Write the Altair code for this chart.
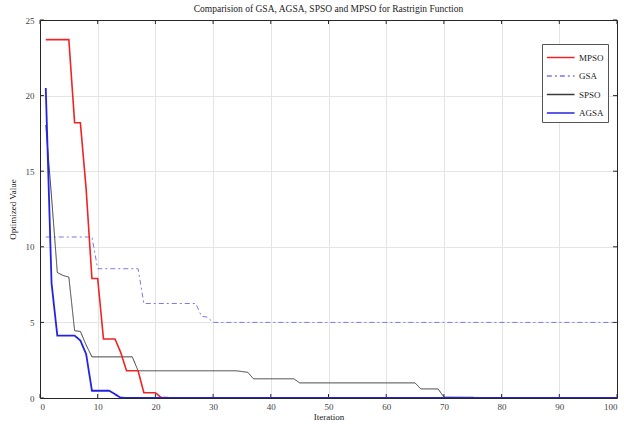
import altair as alt
import pandas as pd

# Breakpoints (iteration, value); lines are straight between them
mpso_it = [1, 5, 6, 7, 8, 9, 10, 11, 13, 14, 15, 17, 18, 20, 21, 24, 100]
mpso_v = [23.7, 23.7, 18.2, 18.2, 13.8, 7.9, 7.9, 3.9, 3.9, 3.0, 1.8, 1.8, 0.35, 0.35, 0.03, 0.01, 0.0]

gsa_it = [1, 9, 10, 17, 18, 27, 28, 29, 30, 100]
gsa_v = [10.65, 10.65, 8.55, 8.55, 6.25, 6.25, 5.4, 5.35, 5.0, 5.0]

spso_it = [1, 2, 3, 4, 5, 6, 7, 8, 9, 16, 17, 34, 35, 36, 37, 44, 45, 65, 66, 69, 70, 75, 76, 100]
spso_v = [18.05, 13.3, 8.3, 8.1, 8.0, 4.45, 4.4, 3.5, 2.72, 2.72, 1.8, 1.8, 1.75, 1.7, 1.27, 1.27, 1.0, 1.0, 0.6, 0.6, 0.06, 0.05, 0.0, 0.0]

agsa_it = [1, 2, 3, 6, 7, 8, 9, 12, 13, 14, 16, 100]
agsa_v = [20.5, 7.6, 4.13, 4.13, 3.8, 2.9, 0.48, 0.48, 0.25, 0.02, 0.0, 0.0]

series_names = ["MPSO", "GSA", "SPSO", "AGSA"]
series_colors = ["#ee2424", "#7a7ae8", "#3a3a3a", "#2424e0"]
series_dash = [[1, 0], [5, 3, 2, 3], [1, 0], [1, 0]]
series_widths = {"MPSO": 1.6, "GSA": 1.0, "SPSO": 1.0, "AGSA": 1.8}

x_ticks = [0, 10, 20, 30, 40, 50, 60, 70, 80, 90, 100]
y_ticks = [0, 5, 10, 15, 20, 25]

rows = []
for name, its, vals in [("MPSO", mpso_it, mpso_v), ("GSA", gsa_it, gsa_v),
                        ("SPSO", spso_it, spso_v), ("AGSA", agsa_it, agsa_v)]:
    for i, v in zip(its, vals):
        rows.append({"series": name, "Iteration": i, "Value": v})
df = pd.DataFrame(rows)

W, H = 577, 378
SERIF = "Liberation Serif"
FRAME = "#262626"

xscale = alt.Scale(domain=[0, 100], nice=False, zero=False)
yscale = alt.Scale(domain=[0, 25], nice=False)

leg = alt.Legend(orient="none", legendX=502, legendY=24, symbolType="M-1,0H2.2", symbolSize=300,
                 symbolStrokeWidth=1.5, labelFont=SERIF, labelFontSize=9, labelColor="#222",
                 padding=4, rowPadding=3.5, strokeColor="#555", fillColor="white", labelOffset=14)
color = alt.Color("series:N", scale=alt.Scale(domain=series_names, range=series_colors), title=None,
                  legend=leg)
dash = alt.StrokeDash("series:N", scale=alt.Scale(domain=series_names, range=series_dash), title=None,
                      legend=leg)

layers = []
for name in ["GSA", "SPSO", "MPSO", "AGSA"]:
    layers.append(
        alt.Chart(df).transform_filter(alt.datum.series == name).mark_line(
            clip=True, strokeWidth=series_widths[name]).encode(
            x=alt.X("Iteration:Q", scale=xscale, axis=None),
            y=alt.Y("Value:Q", scale=yscale, axis=None),
            color=color, strokeDash=dash,
        )
    )

xt = pd.DataFrame({"t": x_ticks})
yt = pd.DataFrame({"t": y_ticks})

common = dict(labelFont=SERIF, labelFontSize=9, labelColor="#444",
              titleFont=SERIF, titleFontSize=9, titleFontWeight="normal", titleColor="#222",
              gridColor="#e4e4e4", gridWidth=1, ticks=False, domain=True, domainColor=FRAME)

bottom_axis = alt.Axis(values=x_ticks, title="Iteration", grid=True, labelPadding=4, titlePadding=1,
                       orient="bottom", **common)
top_axis = alt.Axis(values=x_ticks, title=None, grid=False, labels=False, orient="top", **common)
left_axis = alt.Axis(values=y_ticks, title="Optimized Value", grid=True, labelPadding=6, titlePadding=8,
                     orient="left", **common)
right_axis = alt.Axis(values=y_ticks, title=None, grid=False, labels=False, orient="right", **common)

bx = alt.Chart(xt).mark_rule(color=FRAME, strokeWidth=1).encode(
    x=alt.X("t:Q", scale=xscale, axis=bottom_axis), y=alt.value(H), y2=alt.value(H - 4))
tx = alt.Chart(xt).mark_rule(color=FRAME, strokeWidth=1).encode(
    x=alt.X("t:Q", scale=xscale, axis=top_axis), y=alt.value(0), y2=alt.value(4))
ly = alt.Chart(yt).mark_rule(color=FRAME, strokeWidth=1).encode(
    y=alt.Y("t:Q", scale=yscale, axis=left_axis), x=alt.value(0), x2=alt.value(4))
ry = alt.Chart(yt).mark_rule(color=FRAME, strokeWidth=1).encode(
    y=alt.Y("t:Q", scale=yscale, axis=right_axis), x=alt.value(W), x2=alt.value(W - 4))

chart = alt.layer(bx, tx, ly, ry, *layers).resolve_axis(
    x="independent", y="independent"
).properties(
    width=W, height=H, background="white",
    title=alt.TitleParams("Comparision of GSA, AGSA, SPSO and MPSO for Rastrigin Function",
                          font=SERIF, fontSize=9.5, fontWeight="normal", color="#222",
                          offset=3, anchor="middle"),
    autosize=alt.AutoSizeParams(type="none"),
    padding={"left": 40, "top": 20, "right": 7, "bottom": 26},
).configure_view(
    stroke=None
)

chart.save("out.html", embed_options={"renderer": "svg", "actions": False})
